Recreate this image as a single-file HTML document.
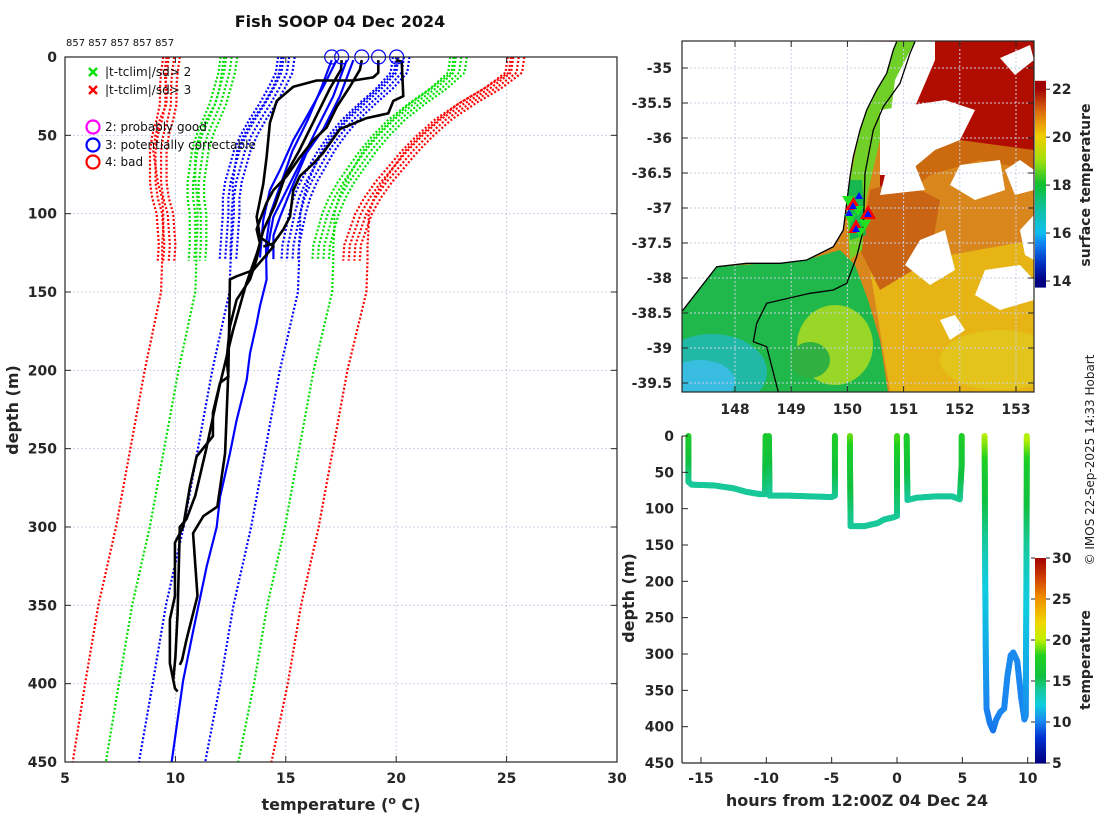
<!DOCTYPE html>
<html><head><meta charset="utf-8"><style>
html,body{margin:0;padding:0;background:#fff;}
svg{display:block;font-family:"DejaVu Sans","Liberation Sans",sans-serif;}
.tk{font-size:14px;font-weight:bold;fill:#262626;}
</style></head><body>
<svg id="fig" width="1100" height="820" viewBox="0 0 1100 820" xmlns="http://www.w3.org/2000/svg">
<text x="340" y="27" text-anchor="middle" font-size="16" font-weight="bold" fill="#111">Fish SOOP 04 Dec 2024</text>
<text x="66" y="46" font-size="10" fill="#111">857 857 857 857 857</text>
<g id="main"></g>
<g id="map"></g>
<g id="track"></g>
<text transform="translate(1094,460) rotate(-90)" text-anchor="middle" font-size="12" fill="#222">© IMOS 22-Sep-2025 14:33 Hobart</text>
</svg>
<script>
// ===== Profile plot data =====
const climDepth = [0,10,20,30,40,50,60,70,80,90,100,110,120,130];
const climMean = [17.6,17.5,17.0,16.4,15.8,15.3,14.9,14.6,14.3,14.1,14.0,13.9,13.8,13.75];
const climSd = [2.6,2.6,2.45,2.25,2.1,2.0,1.9,1.8,1.7,1.6,1.5,1.45,1.4,1.4];
const shallowOffsets = [-0.35,-0.1,0.15,0.4];
const deepClimDepth = [0,10,20,30,40,50,60,70,80,90,100,110,120,130,150,200,250,300,350,400,450];
const deepClimMean = [17.4,17.3,16.8,16.2,15.6,15.1,14.7,14.5,14.3,14.2,14.1,14.1,14.05,14.05,14.0,13.2,12.55,11.9,11.1,10.5,9.85];
const deepClimSd = [2.6,2.6,2.4,2.2,2.1,2.0,1.9,1.8,1.7,1.6,1.55,1.55,1.55,1.55,1.55,1.53,1.53,1.53,1.53,1.53,1.5];
const sdLevels = [-3,-2,-1,1,2,3];
const sdColors = ["#ff0000","#00e000","#0000ff","#0000ff","#00e000","#ff0000"];
const blackT1 = [19.19,19.19,18.96,18.06,16.4,15.34,14.59,14.28,14.13,13.98,13.68,13.83,14.44,13.53,12.77,12.47,12.4,12.25,11.9,11.27,10.8,11.0,10.5,10.3,10.2];
const blackD1 = [2,10,13,15,15,19,28,42,64,81,102,115,121,136,140,142,200,253,287,293,304,344,372,385,388];
const blackT2 = [18.44,18.36,17.9,17.3,16.85,16.25,15.64,15.04,14.44,14.13,13.83,13.68,13.83,13.68,13.38,12.77,12.47,12.32,12.4,12.02,11.7,11.7,10.96,10.66,10.35,9.98,9.98,9.75,9.75,9.98,10.1];
const blackD2 = [2,8,19,32,45,53,64,76,85,93,104,110,119,129,142,155,172,193,204,208,227,242,255,274,300,310,344,359,387,403,405];
const blackT3 = [17.53,17.5,17.0,16.3,15.6,15.0,14.5,14.0,13.7,13.2,12.6,12.0,11.4,10.9,10.5,10.2,10.1,10.0,9.9];
const blackD3 = [2,8,20,40,60,75,95,110,125,145,175,210,250,280,295,300,355,383,398];
const blackT4 = [20.02,20.25,20.32,19.87,19.64,18.66,17.45,16.7,16.25,15.64,15.34,15.19,14.89,14.44,13.98];
const blackD4 = [2,3,25,28,36,39,46,61,68,76,85,102,110,119,121];
const blueT1 = [17.3,16.7,15.95,15.34,14.74,14.28,13.98,13.83];
const blueD1 = [2,19,38,53,72,85,104,128];
const blueT2 = [17.76,17.15,16.4,15.64,15.04,14.44,14.28,14.13];
const blueD2 = [2,25,46,68,85,102,114,128];
const blueT3 = [18.06,17.45,16.7,15.95,15.34,14.74,14.44,14.44];
const blueD3 = [2,25,46,61,81,102,114,129];
const blueDeepT = [17.08,16.6,16.0,15.3,14.8,14.3,14.1,14.13,13.83,13.68,13.38,13.23,12.77,12.47,12.02,11.87,11.42,10.81,10.35,9.83];
const blueDeepD = [2,20,40,60,80,100,120,142,159,170,189,206,232,253,281,300,325,366,398,450];
const surfaceFlagT = [17.08,17.53,18.44,19.2,20.02];
const xTicks = [5,10,15,20,25,30];
const yTicks = [0,50,100,150,200,250,300,350,400,450];

// ===== Track plot data =====
const trkHours = [-15.96,-15.96,-15.7,-14,-12.5,-11.5,-10.5,-10.1,-10.05,null,-9.8,-9.75,-8.5,-5,-4.75,-4.75,null,-3.6,-3.6,-3.55,-2.5,-1.5,-1,-0.3,0,0,0,null,0.74,0.76,0.8,1.5,3,4.2,4.8,4.95,4.95,null,6.7,6.72,6.75,6.8,6.85,7.1,7.35,7.6,7.9,8.2,8.45,8.7,8.9,9.2,9.5,9.75,9.85,9.9,9.93,9.93];
const trkDepth = [0,63,67,68,72,77,80,80,0,null,0,82,82,84,82,0,null,0,30,124,124,120,115,112,110,30,0,null,0,30,88,85,83,83,87,40,0,null,0,60,200,310,375,395,405,390,380,375,330,302,298,310,360,390,385,200,40,0];
const trkTemp = [17.5,14.2,14.0,14.0,14.0,14.0,14.0,14.0,17,null,17,14.0,14.0,14.0,14.0,17.5,null,19,17,14.0,14.0,14.0,14.0,14.0,14.0,16.5,18.5,null,17.5,16.5,14.0,14.0,14.0,14.0,14.0,16,17.5,null,20,16.5,12.2,10.8,10.0,9.8,9.6,9.8,10.0,10.0,10.1,10.1,10.1,10.1,10.0,10.0,10.2,12.4,17,20];
const hourTicks = [-15,-10,-5,0,5,10];
const trkDepthTicks = [0,50,100,150,200,250,300,350,400,450];
const trkCbarTicks = [5,10,15,20,25,30];
const mapLonTicks = [148,149,150,151,152,153];
const mapLatTicks = [-35,-35.5,-36,-36.5,-37,-37.5,-38,-38.5,-39,-39.5];
const sstCbarTicks = [14,16,18,20,22];

const NS="http://www.w3.org/2000/svg";
function mk(parent,tag,attrs){const e=document.createElementNS(NS,tag);for(const k in attrs)e.setAttribute(k,attrs[k]);parent.appendChild(e);return e;}
function lerpHex(a,b,t){const pa=[1,3,5].map(i=>parseInt(a.substr(i,2),16)),pb=[1,3,5].map(i=>parseInt(b.substr(i,2),16));return "rgb("+pa.map((v,i)=>Math.round(v+(pb[i]-v)*t)).join(",")+")";}
function cmap(stops,v){if(v<=stops[0][0])return stops[0][1];for(let i=1;i<stops.length;i++){if(v<=stops[i][0]){const t=(v-stops[i-1][0])/(stops[i][0]-stops[i-1][0]);return lerpHex(stops[i-1][1],stops[i][1],t);}}return stops[stops.length-1][1];}
const trkStops=[[5,"#000080"],[8,"#0030d0"],[10,"#1a86f0"],[12,"#10cce0"],[14,"#18c898"],[15.5,"#10c040"],[18,"#20d020"],[20,"#c0f000"],[22,"#f0d800"],[25,"#f09000"],[27.5,"#d04000"],[30,"#a00000"]];
const sstStops=[[14,"#000080"],[14.7,"#0030c0"],[15.5,"#1080f0"],[16,"#10c0f0"],[17,"#10c0a0"],[18,"#10c030"],[19,"#a0e010"],[20,"#f0d000"],[21,"#e07010"],[22,"#a00000"]];

// ===== Main profile plot =====
(function(){
const g=document.getElementById('main');
const L=65,R=617,T=57,B=762;
const X=t=>L+(t-5)*(R-L)/25, Y=d=>T+d*(B-T)/450;
xTicks.forEach(t=>{const gl=mk(g,'line',{x1:X(t),x2:X(t),y1:T,y2:B,stroke:'#c9cfe6','stroke-width':1,'stroke-dasharray':'2 2'});
});
yTicks.forEach(d=>{const gl=mk(g,'line',{x1:L,x2:R,y1:Y(d),y2:Y(d),stroke:'#c9cfe6','stroke-width':1,'stroke-dasharray':'2 2'});
});
function poly(ts,ds,color,w,dash,name){const p=mk(g,'polyline',{points:ts.map((t,i)=>X(t)+','+Y(ds[i])).join(' '),fill:'none',stroke:color,'stroke-width':w,'stroke-linejoin':'round'});if(dash)p.setAttribute('stroke-dasharray',dash);
return p;}
shallowOffsets.forEach(off=>{sdLevels.forEach((k,j)=>{poly(climMean.map((m,i)=>m+off+k*climSd[i]),climDepth,sdColors[j],2.2,'2 2','clim-sd-line');});});
sdLevels.forEach((k,j)=>{poly(deepClimMean.map((m,i)=>m+k*deepClimSd[i]),deepClimDepth,sdColors[j],2.2,'2 2','deep-clim-sd-line');});
poly(blueT1,blueD1,'#0000ff',2.2,null,'profile-flag3');
poly(blueT2,blueD2,'#0000ff',2.2,null,'profile-flag3');
poly(blueT3,blueD3,'#0000ff',2.2,null,'profile-flag3');
poly(blueDeepT,blueDeepD,'#0000ff',2.2,null,'profile-flag3-deep');
poly(blackT1,blackD1,'#000',2.6,null,'profile-black');
poly(blackT2,blackD2,'#000',2.6,null,'profile-black');
poly(blackT3,blackD3,'#000',2.6,null,'profile-black');
poly(blackT4,blackD4,'#000',2.6,null,'profile-black');
surfaceFlagT.forEach(t=>{const c=mk(g,'circle',{cx:X(t),cy:T,r:7,fill:'none',stroke:'#0000ff','stroke-width':1.2});
});
const box=mk(g,'rect',{x:L,y:T,width:R-L,height:B-T,fill:'none',stroke:'#262626','stroke-width':1.2});

xTicks.forEach(t=>{mk(g,'line',{x1:X(t),x2:X(t),y1:B,y2:B-6,stroke:'#262626'});mk(g,'line',{x1:X(t),x2:X(t),y1:T,y2:T+6,stroke:'#262626'});
const tx=mk(g,'text',{x:X(t),y:B+21,'text-anchor':'middle',class:'tk'});tx.textContent=t;
});
yTicks.forEach(d=>{mk(g,'line',{x1:L,x2:L+6,y1:Y(d),y2:Y(d),stroke:'#262626'});mk(g,'line',{x1:R,x2:R-6,y1:Y(d),y2:Y(d),stroke:'#262626'});
const tx=mk(g,'text',{x:L-8,y:Y(d)+5,'text-anchor':'end',class:'tk'});tx.textContent=d;
});
const xl=mk(g,'text',{x:341,y:810,'text-anchor':'middle','font-size':'16','font-weight':'bold',fill:'#262626'});
xl.innerHTML='temperature (<tspan dy="-6" font-size="11">o</tspan><tspan dy="6"> C)</tspan>';

const yl=mk(g,'text',{transform:'translate(18,410) rotate(-90)','text-anchor':'middle','font-size':'16','font-weight':'bold',fill:'#262626'});yl.textContent='depth (m)';

const lg=mk(g,'g',{});
[[72,'#00e000','|t-tclim|/sd> 2'],[90,'#ff0000','|t-tclim|/sd> 3']].forEach(([y,c,s])=>{
const e=mk(lg,'g',{});
mk(e,'path',{d:`M89 ${y-4}l8 8M97 ${y-4}l-8 8`,stroke:c,'stroke-width':2.4});
const t=mk(e,'text',{x:105,y:y+4,'font-size':12,fill:'#111'});t.textContent=s;});
[[127,'#ff00ff','2: probably good'],[145,'#0000ff','3: potentially correctable'],[162,'#ff0000','4: bad']].forEach(([y,c,s])=>{
const e=mk(lg,'g',{});
mk(e,'circle',{cx:93,cy:y,r:6.5,fill:'none',stroke:c,'stroke-width':2.2});
const t=mk(e,'text',{x:105,y:y+4,'font-size':12,fill:'#111'});t.textContent=s;});
})();

// ===== Map =====
(function(){
const g=document.getElementById('map');
const L=682,R=1034,T=41,B=392;
const lonX=l=>735+(l-148)*56.2, latY=a=>68+(-35-a)*70;
const cp=mk(g,'clipPath',{id:'mapclip'});mk(cp,'rect',{x:L,y:T,width:R-L,height:B-T});
const m=mk(g,'g',{'clip-path':'url(#mapclip)'});

mk(m,'rect',{x:L,y:T,width:R-L,height:B-T,fill:'#d9861c'});
mk(m,'polygon',{points:'880,41 1034,41 1034,150 990,150 960,140 930,150 900,180 880,200',fill:'#b00c00'});
mk(m,'polygon',{points:'880,150 960,140 1034,150 1034,170 980,160 930,175 900,200',fill:'#cc6a10'});
mk(m,'polygon',{points:'870,270 950,255 1034,240 1034,392 890,392',fill:'#e6b414'});
mk(m,'ellipse',{cx:1000,cy:360,rx:60,ry:30,fill:'#e2c41a'});
mk(m,'polygon',{points:'870,190 900,180 940,200 930,260 880,290 860,250',fill:'#c86414'});
mk(m,'polygon',{points:'682,312 717,267 806,260 840,250 855,265 868,300 880,340 888,392 682,392',fill:'#20b84a'});
mk(m,'ellipse',{cx:835,cy:345,rx:38,ry:40,fill:'#98d628'});
mk(m,'ellipse',{cx:810,cy:360,rx:20,ry:18,fill:'#30b040'});
mk(m,'ellipse',{cx:712,cy:372,rx:55,ry:38,fill:'#22b8a8'});
mk(m,'ellipse',{cx:700,cy:382,rx:35,ry:22,fill:'#38bde0'});
mk(m,'polygon',{points:'846,200 860,130 870,100 886,70 896,41 915,41 905,90 880,140 866,200 862,250 850,260',fill:'#70d028'});
mk(m,'polygon',{points:'848,180 862,180 866,235 850,240',fill:'#18b850'});
const clouds=['915,41 935,41 935,60 905,130 890,120 895,80','880,110 945,100 975,110 960,140 935,150 905,175 880,175','885,175 915,165 925,190 880,195','960,165 1000,160 1005,190 975,200 950,185','920,240 945,230 955,270 930,285 905,265','985,270 1020,265 1034,280 1034,300 1000,310 975,295','1034,215 1020,230 1025,255 1034,260','1005,170 1020,160 1034,170 1034,190 1015,195','940,320 955,315 965,330 950,340','1000,58 1030,45 1034,60 1015,75'];
clouds.forEach(p=>{const c=mk(m,'polygon',{points:p,fill:'#ffffff'});});
const land=mk(m,'polygon',{points:'682,41 896.7,41.7 893.3,50 886.7,73.3 876.7,90 866.7,110 860,130 853.3,156.7 850,176.7 846.7,203.3 843.3,230 833.3,246.7 806.7,260 780,263.3 746.7,263.3 716.7,266.7 681.7,311.7',fill:'#ffffff'});

mapLonTicks.forEach(l=>{mk(m,'line',{x1:lonX(l),x2:lonX(l),y1:T,y2:B,stroke:'#c9cfe6','stroke-dasharray':'2 2'});});
mapLatTicks.forEach(a=>{mk(m,'line',{x1:L,x2:R,y1:latY(a),y2:latY(a),stroke:'#c9cfe6','stroke-dasharray':'2 2'});});
const coast=mk(m,'polyline',{points:'681.7,311.7 716.7,266.7 746.7,263.3 780,263.3 806.7,260 833.3,246.7 843.3,230 846.7,203.3 850,176.7 853.3,156.7 860,130 866.7,110 876.7,90 886.7,73.3 893.3,50 896.7,41.7',fill:'none',stroke:'#000','stroke-width':1.3});

const iso=mk(m,'polyline',{points:'778.3,392 766.7,346.7 753.3,341.7 756.7,323.3 766.7,303.3 810,293.3 833.3,290 846.7,283.3 856.7,256.7 863.3,230 865,173.3 873.3,130 883.3,106.7 900,83.3 910,53.3 915,41.7',fill:'none',stroke:'#000','stroke-width':1.3});

[[853,204,'#ff0000'],[868,213,'#ff0000'],[856,227,'#ff0000']].forEach(([x,y,c])=>{const t=mk(m,'polygon',{points:`${x},${y-8} ${x+8},${y+6} ${x-8},${y+6}`,fill:c});});
[[848,200],[858,210],[850,218],[865,224],[860,232]].forEach(([x,y])=>{const t=mk(m,'polygon',{points:`${x-6},${y-4} ${x+6},${y-4} ${x},${y+6}`,fill:'#20e020'});});
[[849,213],[853,206],[868,214],[856,229],[859,196]].forEach(([x,y])=>{const t=mk(m,'polygon',{points:`${x},${y-4} ${x+4},${y+3} ${x-4},${y+3}`,fill:'#0010ff'});});
const box=mk(g,'rect',{x:L,y:T,width:R-L,height:B-T,fill:'none',stroke:'#262626','stroke-width':1.2});

mapLonTicks.forEach(l=>{mk(g,'line',{x1:lonX(l),x2:lonX(l),y1:B,y2:B-6,stroke:'#262626'});mk(g,'line',{x1:lonX(l),x2:lonX(l),y1:T,y2:T+6,stroke:'#262626'});
const tx=mk(g,'text',{x:lonX(l),y:B+22,'text-anchor':'middle',class:'tk'});tx.textContent=l;
});
mapLatTicks.forEach(a=>{mk(g,'line',{x1:L,x2:L+6,y1:latY(a),y2:latY(a),stroke:'#262626'});mk(g,'line',{x1:R,x2:R-6,y1:latY(a),y2:latY(a),stroke:'#262626'});
const tx=mk(g,'text',{x:L-10,y:latY(a)+5,'text-anchor':'end',class:'tk'});tx.textContent=a;
});
const cb=mk(g,'g',{});
const cy0=82,cy1=287,cv=v=>cy1-(v-13.75)*(cy1-cy0)/(22.3-13.75);
for(let v=13.75;v<22.3;v+=0.1){mk(cb,'rect',{x:1035,y:cv(v+0.1),width:11,height:(cy1-cy0)/85.5+0.6,fill:cmap(sstStops,v)});}
sstCbarTicks.forEach(v=>{mk(cb,'line',{x1:1046,x2:1050,y1:cv(v),y2:cv(v),stroke:'#262626'});
const tx=mk(cb,'text',{x:1052,y:cv(v)+5,class:'tk'});tx.textContent=v;
});
const ct=mk(g,'text',{transform:'translate(1090,185) rotate(-90)','text-anchor':'middle','font-size':'14','font-weight':'bold',fill:'#262626'});ct.textContent='surface temperature';

})();

// ===== Track plot =====
(function(){
const g=document.getElementById('track');
const L=682,B=763,T=436;
const X=h=>897+h*13.07, Y=d=>T+d*(B-T)/450;
const trk=mk(g,'g',{});
for(let i=1;i<trkHours.length;i++){
 if(trkHours[i]===null||trkHours[i-1]===null)continue;
 const n=Math.max(1,Math.ceil(Math.hypot(X(trkHours[i])-X(trkHours[i-1]),Y(trkDepth[i])-Y(trkDepth[i-1]))/3));
 for(let k=0;k<n;k++){const a=k/n,b=(k+1)/n;
  const h0=trkHours[i-1]+(trkHours[i]-trkHours[i-1])*a,h1=trkHours[i-1]+(trkHours[i]-trkHours[i-1])*b;
  const d0=trkDepth[i-1]+(trkDepth[i]-trkDepth[i-1])*a,d1=trkDepth[i-1]+(trkDepth[i]-trkDepth[i-1])*b;
  const tm=trkTemp[i-1]+(trkTemp[i]-trkTemp[i-1])*(a+b)/2;
  mk(trk,'line',{x1:X(h0),y1:Y(d0),x2:X(h1),y2:Y(d1),stroke:cmap(trkStops,tm),'stroke-width':6,'stroke-linecap':'round'});}
}
mk(g,'line',{x1:L,x2:L,y1:T,y2:B,stroke:'#262626','stroke-width':1.2});
mk(g,'line',{x1:L,x2:1034,y1:B,y2:B,stroke:'#262626','stroke-width':1.2});
hourTicks.forEach(h=>{mk(g,'line',{x1:X(h),x2:X(h),y1:B,y2:B-6,stroke:'#262626'});
const tx=mk(g,'text',{x:X(h),y:B+20,'text-anchor':'middle',class:'tk'});tx.textContent=h;
});
trkDepthTicks.forEach(d=>{mk(g,'line',{x1:L,x2:L+6,y1:Y(d),y2:Y(d),stroke:'#262626'});
const tx=mk(g,'text',{x:L-8,y:Y(d)+5,'text-anchor':'end',class:'tk'});tx.textContent=d;
});
const xl=mk(g,'text',{x:857,y:806,'text-anchor':'middle','font-size':'16','font-weight':'bold',fill:'#262626'});xl.textContent='hours from 12:00Z 04 Dec 24';

const yl=mk(g,'text',{transform:'translate(634,598) rotate(-90)','text-anchor':'middle','font-size':'16','font-weight':'bold',fill:'#262626'});yl.textContent='depth (m)';

const cb=mk(g,'g',{});
const c0=558,c1=763,cv=v=>c1-(v-5)*(c1-c0)/25;
for(let v=5;v<30;v+=0.25){mk(cb,'rect',{x:1035,y:cv(v+0.25),width:11,height:(c1-c0)/100+0.6,fill:cmap(trkStops,v)});}
trkCbarTicks.forEach(v=>{mk(cb,'line',{x1:1046,x2:1050,y1:cv(v),y2:cv(v),stroke:'#262626'});mk(cb,'line',{x1:1031,x2:1035,y1:cv(v),y2:cv(v),stroke:'#262626'});
const tx=mk(cb,'text',{x:1052,y:cv(v)+5,class:'tk'});tx.textContent=v;
});
const ct=mk(g,'text',{transform:'translate(1090,660) rotate(-90)','text-anchor':'middle','font-size':'14','font-weight':'bold',fill:'#262626'});ct.textContent='temperature';

})();
</script>
</body></html>
